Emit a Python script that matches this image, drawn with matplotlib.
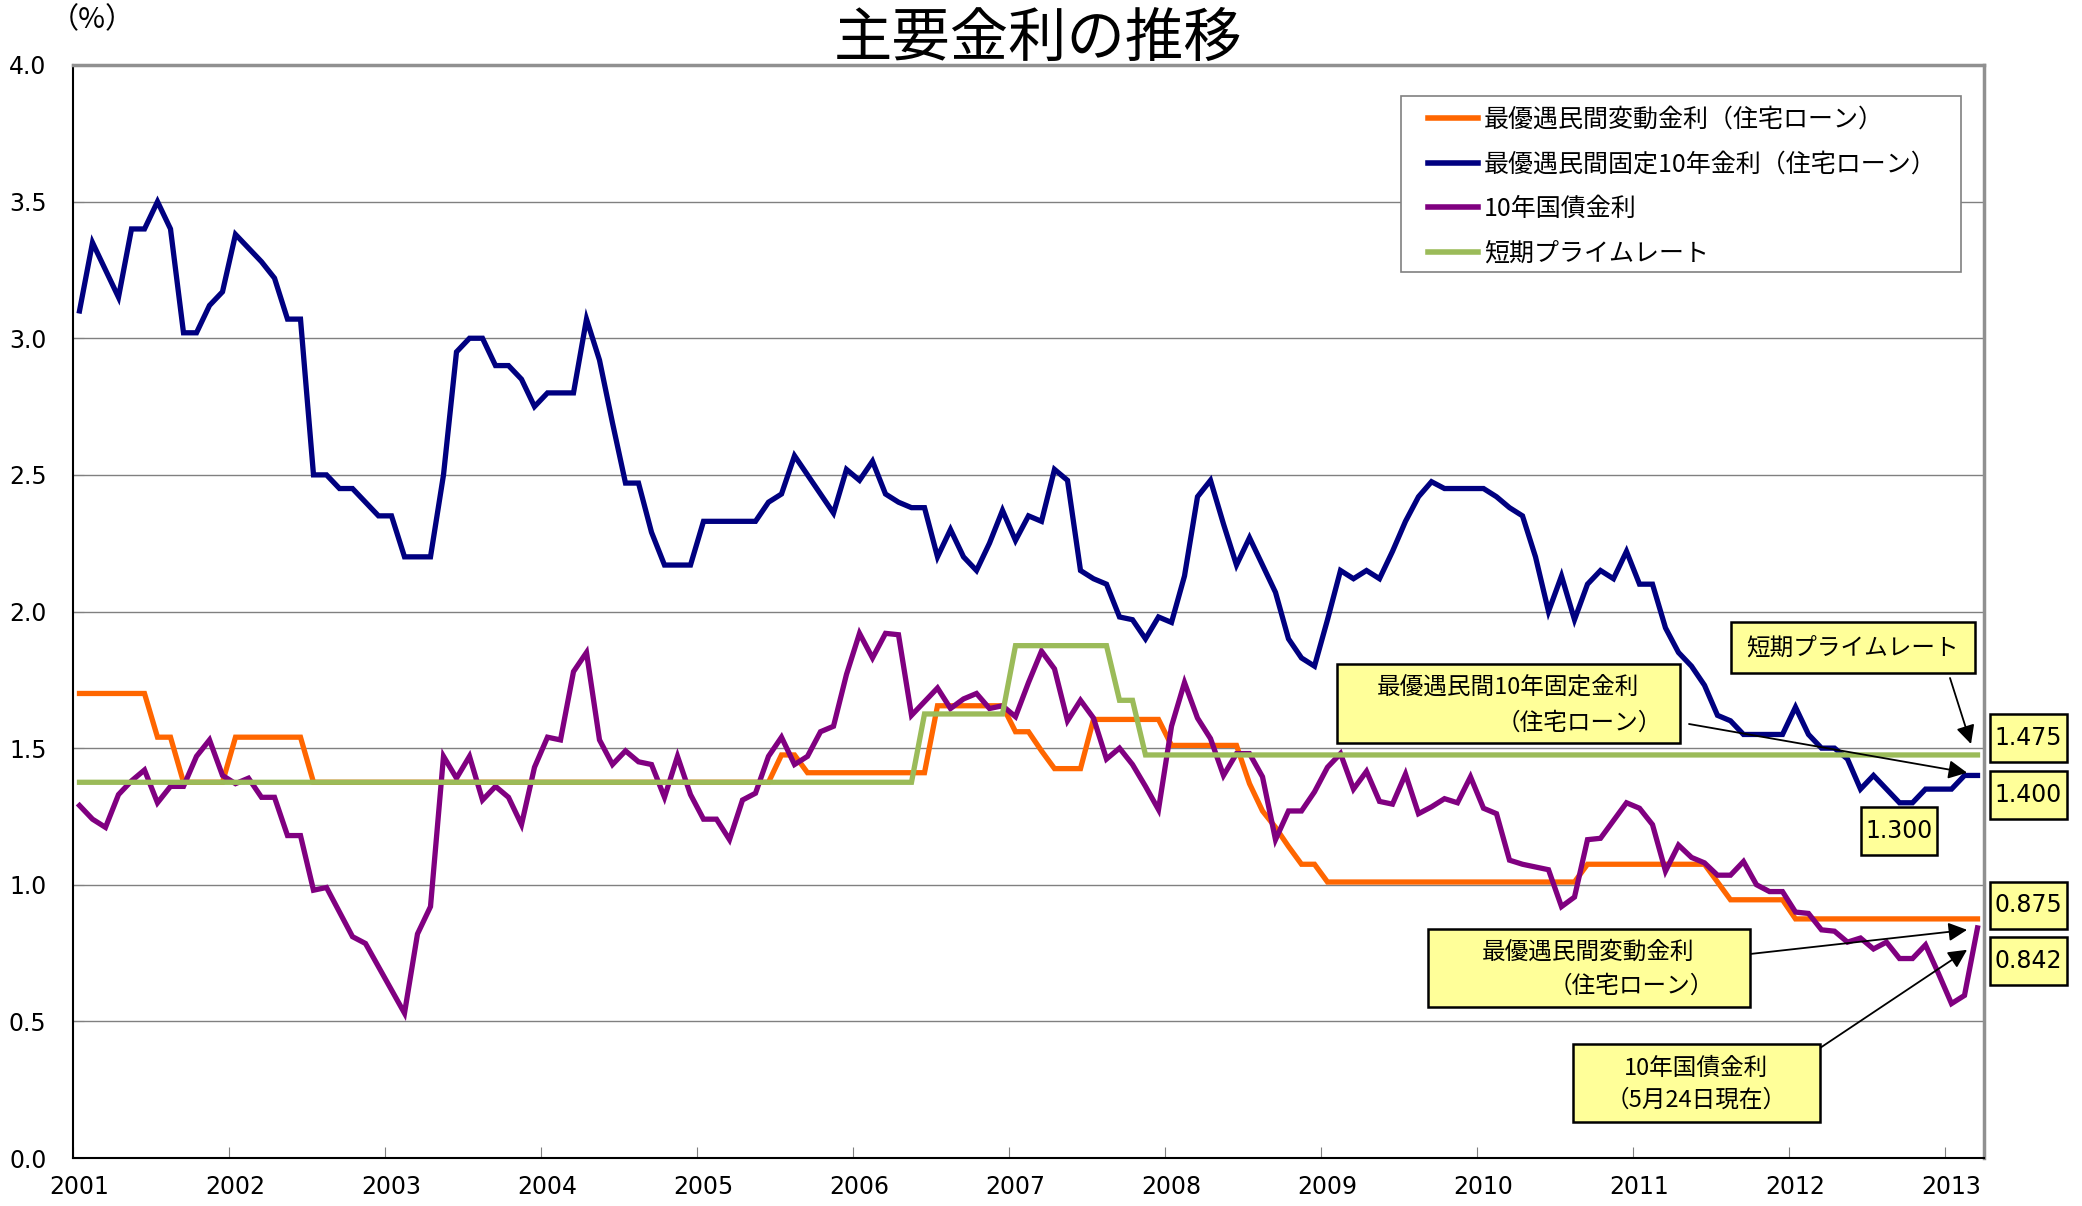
import numpy as np
import matplotlib as mpl
mpl.use('Agg')
import matplotlib.pyplot as plt
from matplotlib.patches import Rectangle

# monthly data, Jan 2001 .. (147 points), last point = 5/24 value
years = ['2001', '2002', '2003', '2004', '2005', '2006', '2007',
         '2008', '2009', '2010', '2011', '2012', '2013']

variable_rate = ([1.70] * 6 + [1.54] * 2 + [1.375] * 4 + [1.54] * 6 + [1.375] * 36
                 + [1.475] * 2 + [1.41] * 10 + [1.655] * 6 + [1.56] * 2 + [1.49]
                 + [1.425] * 3 + [1.605] * 6 + [1.51] * 6
                 + [1.37, 1.27, 1.21, 1.14, 1.075, 1.075] + [1.01] * 20
                 + [1.075] * 10 + [1.01] + [0.945] * 5 + [0.875] * 15)

fixed10_rate = [3.10, 3.35, 3.25, 3.15, 3.40, 3.40, 3.50, 3.40, 3.02, 3.02, 3.12, 3.17,
                3.38, 3.33, 3.28, 3.22, 3.07, 3.07, 2.50, 2.50, 2.45, 2.45, 2.40, 2.35,
                2.35, 2.20, 2.20, 2.20, 2.50, 2.95, 3.00, 3.00, 2.90, 2.90, 2.85, 2.75,
                2.80, 2.80, 2.80, 3.07, 2.92, 2.69, 2.47, 2.47, 2.29, 2.17, 2.17, 2.17,
                2.33, 2.33, 2.33, 2.33, 2.33, 2.40, 2.43, 2.57, 2.50, 2.43, 2.36, 2.52,
                2.48, 2.55, 2.43, 2.40, 2.38, 2.38, 2.20, 2.30, 2.20, 2.15, 2.25, 2.37,
                2.26, 2.35, 2.33, 2.52, 2.48, 2.15, 2.12, 2.10, 1.98, 1.97, 1.90, 1.98,
                1.96, 2.13, 2.42, 2.48, 2.32, 2.17, 2.27, 2.17, 2.07, 1.90, 1.83, 1.80,
                1.97, 2.15, 2.12, 2.15, 2.12, 2.22, 2.33, 2.42, 2.475, 2.45, 2.45, 2.45,
                2.45, 2.42, 2.38, 2.35, 2.20, 2.00, 2.13, 1.97, 2.10, 2.15, 2.12, 2.22,
                2.10, 2.10, 1.94, 1.85, 1.80, 1.73, 1.62, 1.60, 1.55, 1.55, 1.55, 1.55,
                1.65, 1.55, 1.50, 1.50, 1.46, 1.35, 1.40, 1.35, 1.30, 1.30, 1.35, 1.35,
                1.35, 1.40, 1.40]

jgb10_rate = [1.29, 1.24, 1.21, 1.33, 1.38, 1.42, 1.30, 1.36, 1.36, 1.47, 1.53, 1.40,
              1.37, 1.39, 1.32, 1.32, 1.18, 1.18, 0.98, 0.99, 0.90, 0.81, 0.785, 0.70,
              0.615, 0.53, 0.82, 0.92, 1.47, 1.39, 1.47, 1.31, 1.36, 1.32, 1.22, 1.43,
              1.54, 1.53, 1.78, 1.85, 1.53, 1.44, 1.49, 1.45, 1.44, 1.32, 1.47, 1.33,
              1.24, 1.24, 1.165, 1.31, 1.335, 1.47, 1.54, 1.44, 1.47, 1.56, 1.58, 1.77,
              1.92, 1.83, 1.92, 1.915, 1.62, 1.67, 1.72, 1.645, 1.68, 1.70, 1.645, 1.655,
              1.615, 1.74, 1.855, 1.79, 1.60, 1.675, 1.61, 1.46, 1.50, 1.44, 1.36, 1.275,
              1.58, 1.74, 1.61, 1.535, 1.40, 1.48, 1.48, 1.395, 1.165, 1.27, 1.27, 1.34,
              1.43, 1.48, 1.35, 1.415, 1.305, 1.295, 1.405, 1.26, 1.285, 1.315, 1.30, 1.395,
              1.28, 1.26, 1.09, 1.075, 1.065, 1.055, 0.92, 0.955, 1.165, 1.17, 1.235, 1.30,
              1.28, 1.22, 1.05, 1.145, 1.10, 1.08, 1.035, 1.035, 1.085, 1.00, 0.975, 0.975,
              0.90, 0.895, 0.835, 0.83, 0.79, 0.805, 0.765, 0.79, 0.73, 0.73, 0.78, 0.675,
              0.565, 0.595, 0.842]

short_prime = [1.375] * 65 + [1.625] * 7 + [1.875] * 8 + [1.675] * 2 + [1.475] * 65

labels = ['最優遇民間変動金利（住宅ローン）', '最優遇民間固定10年金利（住宅ローン）',
          '10年国債金利', '短期プライムレート']
colors = ['#FF6600', '#000080', '#800080', '#9BBB59']

JP = ['Noto Sans CJK JP', 'DejaVu Sans']
NARROW = ['Liberation Sans Narrow', 'DejaVu Sans']
plt.rcParams['font.family'] = JP

W, H = 2082, 1206
fig = plt.figure(figsize=(W / 100, H / 100), dpi=100)
ax = fig.add_axes([73 / W, 1 - 1158 / H, (1984 - 73) / W, (1158 - 65) / H])

n = len(jgb10_rate)
x = np.arange(n) + 0.5
for vals, lab, col in zip([variable_rate, fixed10_rate, jgb10_rate, short_prime], labels, colors):
    ax.plot(x, vals, color=col, lw=3.8, label=lab, solid_joinstyle='miter')

ax.set_xlim(0, n)
ax.set_ylim(0, 4.0)
ax.set_yticks(np.arange(0, 4.01, 0.5))
ax.set_yticklabels(['%.1f' % v for v in np.arange(0, 4.01, 0.5)], family=NARROW, fontsize=17)
ax.set_xticks(np.arange(0, n, 12))
ax.set_xticklabels([])
ax.set_xticks(np.arange(0, n, 12) + 0.5, minor=True)
ax.set_xticklabels(years, minor=True, family=NARROW, fontsize=17)
ax.tick_params(axis='x', which='major', direction='in', length=8, color='#808080')
ax.tick_params(axis='x', which='minor', length=0, pad=12)
ax.tick_params(axis='y', direction='in', length=8, color='#808080', pad=19)
ax.grid(axis='y', color='#808080', lw=1)
ax.set_axisbelow(True)
for s in ['left', 'bottom']:
    ax.spines[s].set_color('black')
    ax.spines[s].set_linewidth(1.5)
for s in ['top', 'right']:
    ax.spines[s].set_color('#909090')
    ax.spines[s].set_linewidth(2.5)


def fx(px):
    return px / W


def fy(py):
    return 1 - py / H


# legend: manual frame behind a frameless legend
ax.add_patch(Rectangle((fx(1401), fy(272)), fx(1961) - fx(1401), fy(96) - fy(272),
                       transform=fig.transFigure, facecolor='white', clip_on=False,
                       edgecolor='#808080', lw=1.2, zorder=4))
leg = ax.legend(loc='upper left', bbox_to_anchor=(fx(1428), fy(107)),
                bbox_transform=fig.transFigure, fontsize=18, frameon=False,
                handlelength=2.0, handletextpad=0.25, labelspacing=0.74,
                borderpad=0, borderaxespad=0)
leg.set_zorder(5)
for h in leg.get_lines():
    h.set_linewidth(4)

# title and unit
fig.text(1038 / W, 1 - 56 / H, '主要金利の推移', ha='center', va='baseline', fontsize=42)
fig.text(92 / W, 1 - 20 / H, '（%）', ha='center', va='center', fontsize=21)


def box(x0, y0, x1, y1):
    fig.patches.append(Rectangle((fx(x0), fy(y1)), fx(x1) - fx(x0), fy(y0) - fy(y1),
                                 transform=fig.transFigure, facecolor='#FFFF99',
                                 edgecolor='black', lw=1.8, zorder=5))


def txt(px, py, s, ha='center', fam=JP, size=17):
    fig.text(fx(px), fy(py), s, ha=ha, va='center', fontsize=size, family=fam, zorder=6)


arrow = dict(arrowstyle='-|>', mutation_scale=28, lw=1.3, color='black', shrinkA=0, shrinkB=0)
xe = x[-1]

# short prime box
box(1731, 622, 1975, 673)
txt(1853, 648, '短期プライムレート')
ax.annotate('', xy=(xe - 0.5, short_prime[-1] + 0.04), xytext=(fx(1950), fy(678)),
            textcoords='figure fraction', arrowprops=arrow, annotation_clip=False)

# fixed 10y box
box(1337, 664, 1680, 743)
txt(1508, 687, '最優遇民間10年固定金利')
txt(1662, 723, '（住宅ローン）', ha='right')
ax.annotate('', xy=(xe - 0.8, fixed10_rate[-1] + 0.01), xytext=(fx(1689), fy(724)),
            textcoords='figure fraction', arrowprops=arrow, annotation_clip=False)

# variable box
box(1428, 929, 1750, 1007)
txt(1588, 952, '最優遇民間変動金利')
txt(1714, 986, '（住宅ローン）', ha='right')
ax.annotate('', xy=(xe - 0.8, variable_rate[-1] - 0.04), xytext=(fx(1750), fy(954)),
            textcoords='figure fraction', arrowprops=arrow, annotation_clip=False)

# jgb box
box(1573, 1044, 1820, 1122)
txt(1696, 1068, '10年国債金利')
txt(1696, 1100, '（5月24日現在）')
ax.annotate('', xy=(xe - 0.8, jgb10_rate[-1] - 0.08), xytext=(fx(1820), fy(1048)),
            textcoords='figure fraction', arrowprops=arrow, annotation_clip=False)

# value boxes
box(1861, 807, 1937, 855)
txt(1899, 831, '%.3f' % min(fixed10_rate[-12:]), fam=NARROW)
for (y0, y1), v in zip([(714, 762), (771, 819), (882, 929), (937, 985)],
                       [short_prime[-1], fixed10_rate[-1], variable_rate[-1], jgb10_rate[-1]]):
    box(1990, y0, 2067, y1)
    txt(2028, (y0 + y1) / 2, '%.3f' % v, fam=NARROW)

fig.savefig('out.png', dpi=100)
